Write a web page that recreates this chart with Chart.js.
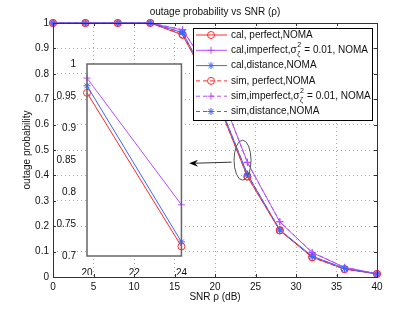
<!DOCTYPE html>
<html>
<head>
<meta charset="utf-8">
<script src="https://cdn.jsdelivr.net/npm/chart.js@4/dist/chart.umd.min.js"></script>
<style>
  body { margin: 0; background: #fff; }
  #wrap { position: relative; width: 415px; height: 312px; }
  #main { position: absolute; left: 0; top: 0; }
  #inset { position: absolute; left: 40px; top: 55px; }
</style>
</head>
<body>
<div id="wrap">
  <canvas id="main" width="415" height="312"></canvas>
  <canvas id="inset" width="150" height="220"></canvas>
</div>
<script>
// data
const snr = [0, 4, 8, 12, 16, 20, 24, 28, 32, 36, 40];
const calPerfect   = [1, 1, 1, 1, 0.953, 0.715, 0.395, 0.183, 0.078, 0.031, 0.012];
const calImperfect = [1, 1, 1, 1, 0.972, 0.780, 0.452, 0.217, 0.096, 0.038, 0.013];
const calDistance  = [1, 1, 1, 1, 0.962, 0.722, 0.405, 0.185, 0.082, 0.034, 0.012];
const simPerfect   = [1, 1, 1, 1, 0.955, 0.714, 0.396, 0.184, 0.077, 0.031, 0.012];
const simImperfect = [1, 1, 1, 1, 0.974, 0.781, 0.450, 0.218, 0.097, 0.038, 0.013];
const simDistance  = [1, 1, 1, 1, 0.963, 0.723, 0.404, 0.186, 0.081, 0.033, 0.012];

const xTicks = [0, 5, 10, 15, 20, 25, 30, 35, 40];
const yTicks = [0, 0.1, 0.2, 0.3, 0.4, 0.5, 0.6, 0.7, 0.8, 0.9, 1];

// zoomed inset
const insetX = [20, 24];
const insetPerfect   = [0.955, 0.715];
const insetImperfect = [0.978, 0.780];
const insetDistance  = [0.966, 0.722];
const insetXTicks = [20, 22, 24];
const insetYTicks = ['0.7', '0.75', '0.8', '0.85', '0.9', '0.95', '1'];

const seriesLabels = [
  ['cal, perfect,NOMA'],
  ['cal,imperfect,σ', '2', 'ζ', ' = 0.01, NOMA'],
  ['cal,distance,NOMA'],
  ['sim, perfect,NOMA'],
  ['sim,imperfect,σ', '2', 'ζ', ' = 0.01, NOMA'],
  ['sim,distance,NOMA']
];

const RED = '#ff2a2a', PURPLE = '#b84cff', BLUE = '#3f66ff';
const FONT = "'Liberation Sans', Arial, sans-serif";

function pts(xs, ys) { return xs.map((x, i) => ({ x: x, y: ys[i] })); }

function ds(xs, ys, color, style, dashed, idx) {
  return {
    data: pts(xs, ys),
    borderColor: color,
    backgroundColor: 'rgba(0,0,0,0)',
    borderWidth: 1,
    borderDash: dashed ? [4, 3] : [],
    pointStyle: style,
    pointRadius: 3.5,
    pointBorderWidth: 1,
    pointBorderColor: color,
    pointBackgroundColor: 'rgba(0,0,0,0)',
    tension: 0,
    fill: false,
    order: 10 - idx
  };
}

const mainSets = [
  ds(snr, calPerfect, RED, 'circle', false, 0),
  ds(snr, calImperfect, PURPLE, 'cross', false, 1),
  ds(snr, calDistance, BLUE, 'star', false, 2),
  ds(snr, simPerfect, RED, 'circle', true, 3),
  ds(snr, simImperfect, PURPLE, 'cross', true, 4),
  ds(snr, simDistance, BLUE, 'star', true, 5)
];

// title, axis box, ticks, ellipse, arrow, legend
const decor = {
  id: 'decor',
  afterDraw(chart) {
    const ctx = chart.ctx, a = chart.chartArea;
    const xs = chart.scales.x, ys = chart.scales.y;
    ctx.save();
    // box + inward ticks
    ctx.strokeStyle = '#333';
    ctx.lineWidth = 1;
    ctx.strokeRect(a.left + 0.5, a.top + 0.5, a.right - a.left, a.bottom - a.top);
    ctx.beginPath();
    xTicks.forEach(v => {
      const px = Math.round(xs.getPixelForValue(v)) + 0.5;
      ctx.moveTo(px, a.bottom); ctx.lineTo(px, a.bottom - 3);
      ctx.moveTo(px, a.top); ctx.lineTo(px, a.top + 3);
    });
    yTicks.forEach(v => {
      const py = Math.round(ys.getPixelForValue(v)) + 0.5;
      ctx.moveTo(a.left, py); ctx.lineTo(a.left + 3, py);
      ctx.moveTo(a.right, py); ctx.lineTo(a.right - 3, py);
    });
    ctx.stroke();

    // texts
    ctx.fillStyle = '#111';
    ctx.font = '10px ' + FONT;
    ctx.textAlign = 'center';
    ctx.textBaseline = 'middle';
    ctx.fillText('outage probability vs SNR (ρ)', (a.left + a.right) / 2, 12);
    ctx.fillText('SNR ρ (dB)', (a.left + a.right) / 2, 297);
    ctx.save();
    ctx.translate(27, (a.top + a.bottom) / 2);
    ctx.rotate(-Math.PI / 2);
    ctx.fillText('outage probability', 0, 0);
    ctx.restore();

    // ellipse around the point at 24 dB
    const ex = xs.getPixelForValue(23.4), ey = ys.getPixelForValue(0.46);
    ctx.strokeStyle = '#555';
    ctx.lineWidth = 1;
    ctx.beginPath();
    ctx.ellipse(ex, ey, 8.5, 20, 0, 0, Math.PI * 2);
    ctx.stroke();

    // arrow to inset
    const tx = xs.getPixelForValue(16.8), ty = ys.getPixelForValue(0.448);
    const sx = ex - 11, sy = ey + 2;
    ctx.strokeStyle = '#333';
    ctx.beginPath();
    ctx.moveTo(sx, sy); ctx.lineTo(tx + 6, ty);
    ctx.stroke();
    ctx.fillStyle = '#000';
    ctx.beginPath();
    ctx.moveTo(tx, ty);
    ctx.lineTo(tx + 9, ty - 3.5);
    ctx.lineTo(tx + 6, ty);
    ctx.lineTo(tx + 9, ty + 3.5);
    ctx.closePath();
    ctx.fill();

    // legend
    const lx = 193.5, ly = 28.5, lw = 179, lh = 92;
    ctx.fillStyle = '#fff';
    ctx.fillRect(lx, ly, lw, lh);
    ctx.strokeStyle = '#000';
    ctx.strokeRect(lx, ly, lw, lh);
    chart.data.datasets.forEach((d, i) => {
      const cy = 35 + i * 15.3;
      ctx.strokeStyle = d.borderColor;
      ctx.lineWidth = 1;
      ctx.setLineDash(d.borderDash);
      ctx.beginPath();
      ctx.moveTo(196, cy); ctx.lineTo(227, cy);
      ctx.stroke();
      ctx.setLineDash([]);
      ctx.fillStyle = 'rgba(0,0,0,0)';
      Chart.helpers.drawPoint(ctx, { pointStyle: d.pointStyle, radius: 3.5, borderWidth: 1 }, 211, cy);
      ctx.fillStyle = '#111';
      ctx.font = '10px ' + FONT;
      ctx.textAlign = 'left';
      ctx.textBaseline = 'middle';
      const parts = seriesLabels[i];
      let x = 231;
      ctx.fillText(parts[0], x, cy);
      x += ctx.measureText(parts[0]).width;
      if (parts.length > 1) {
        ctx.font = '7px ' + FONT;
        ctx.fillText(parts[1], x + 0.5, cy - 5);
        ctx.fillText(parts[2], x + 0.5, cy + 4);
        x += Math.max(ctx.measureText(parts[1]).width, ctx.measureText(parts[2]).width) + 1;
        ctx.font = '10px ' + FONT;
        ctx.fillText(parts[3], x, cy);
      }
    });
    ctx.restore();
  }
};

new Chart(document.getElementById('main'), {
  type: 'line',
  data: { datasets: mainSets },
  options: {
    responsive: false,
    animation: false,
    clip: false,
    layout: { padding: { left: 0, right: 38, top: 23, bottom: 0 } },
    plugins: { legend: { display: false }, tooltip: { enabled: false } },
    scales: {
      x: {
        type: 'linear', min: 0, max: 40,
        afterBuildTicks: s => { s.ticks = xTicks.map(v => ({ value: v })); },
        afterFit: s => { s.height = 35; },
        grid: { color: '#aaa', drawTicks: false },
        border: { display: false, dash: [1, 3] },
        ticks: { color: '#111', font: { family: FONT, size: 10 }, padding: 4, maxRotation: 0 }
      },
      y: {
        min: 0, max: 1,
        afterBuildTicks: s => { s.ticks = yTicks.map(v => ({ value: v })); },
        afterFit: s => { s.width = 53; },
        grid: { color: '#aaa', drawTicks: false },
        border: { display: false, dash: [1, 3] },
        ticks: { color: '#111', font: { family: FONT, size: 10 }, padding: 4,
                 callback: v => String(Math.round(v * 10) / 10) }
      }
    }
  },
  plugins: [decor]
});

// inset chart
const insetFrame = {
  id: 'insetFrame',
  beforeDatasetsDraw(chart) {
    const ctx = chart.ctx, a = chart.chartArea;
    ctx.save();
    ctx.fillStyle = '#fff';
    ctx.fillRect(a.left, a.top, a.right - a.left, a.bottom - a.top);
    ctx.restore();
  },
  afterDraw(chart) {
    const ctx = chart.ctx, a = chart.chartArea;
    ctx.save();
    ctx.strokeStyle = '#666';
    ctx.lineWidth = 1.5;
    ctx.strokeRect(a.left, a.top, a.right - a.left, a.bottom - a.top);
    ctx.restore();
  }
};

new Chart(document.getElementById('inset'), {
  type: 'line',
  data: {
    datasets: [
      ds(insetX, insetPerfect, RED, 'circle', false, 0),
      ds(insetX, insetImperfect, PURPLE, 'cross', false, 1),
      ds(insetX, insetDistance, BLUE, 'star', false, 2)
    ]
  },
  options: {
    responsive: false,
    animation: false,
    clip: false,
    layout: { padding: { left: 0, right: 8, top: 8, bottom: 0 } },
    plugins: { legend: { display: false }, tooltip: { enabled: false } },
    scales: {
      x: {
        type: 'linear', min: 20, max: 24,
        afterBuildTicks: s => { s.ticks = insetXTicks.map(v => ({ value: v })); },
        afterFit: s => { s.height = 19; },
        grid: { display: false },
        border: { display: false },
        ticks: { color: '#111', font: { family: FONT, size: 10 }, padding: 3, maxRotation: 0 }
      },
      y: {
        min: 0.7, max: 1,
        afterBuildTicks: s => { s.ticks = insetYTicks.map(v => ({ value: Number(v) })); },
        afterFit: s => { s.width = 47; },
        grid: { display: false },
        border: { display: false },
        ticks: { color: '#111', font: { family: FONT, size: 10 }, padding: 3,
                 callback: (v, i) => insetYTicks[i] }
      }
    }
  },
  plugins: [insetFrame]
});
</script>
</body>
</html>
